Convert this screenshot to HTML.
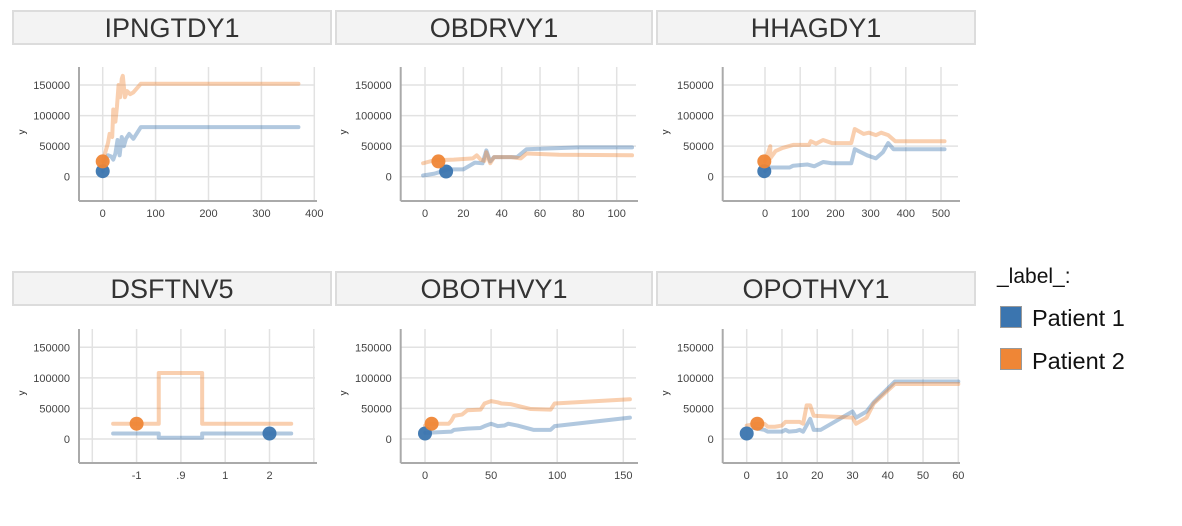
<!DOCTYPE html>
<html><head><meta charset="utf-8"><style>
body{margin:0;width:1182px;height:526px;background:#fff;overflow:hidden;font-family:"Liberation Sans",sans-serif}
svg{position:absolute;left:0;top:0}
</style></head><body>
<svg id="chart" width="1182" height="526"></svg>
<script>
const titles = ["IPNGTDY1","OBDRVY1","HHAGDY1","DSFTNV5","OBOTHVY1","OPOTHVY1"];
const yTicks = [0,50000,100000,150000];
const yTickLabels = ["0","50000","100000","150000"];
const xTicks1 = [0,100,200,300,400];
const xTicks2 = [0,20,40,60,80,100];
const xTicks3 = [0,100,200,300,400,500];
const xTicks4 = [1,2,3,4];
const xTickLabels4 = ["-1",".9","1","2"];
const xTicks5 = [0,50,100,150];
const xTicks6 = [0,10,20,30,40,50,60];
const p1Orange = [[0,25000],[5,40000],[10,55000],[13,70000],[18,65000],[20,110000],[24,90000],[27,115000],[30,150000],[33,130000],[36,160000],[38,165000],[42,130000],[46,140000],[52,135000],[58,138000],[72,152000],[370,152000]];
const p1Blue = [[0,9000],[5,28000],[10,35000],[16,33000],[20,28000],[24,38000],[28,60000],[32,35000],[36,65000],[40,50000],[44,62000],[50,70000],[58,62000],[72,81000],[370,81000]];
const p2Orange = [[-1,22000],[5,27000],[15,28000],[25,30000],[27,35000],[29,28000],[31,26000],[32,40000],[34,22000],[36,32000],[45,32000],[50,30000],[53,38000],[70,36000],[108,35000]];
const p2Blue = [[-1,2000],[5,5000],[8,8000],[12,12000],[20,12000],[26,23000],[30,22000],[32,43000],[34,25000],[36,32000],[48,32000],[53,45000],[80,48000],[108,48000]];
const p3Orange = [[0,25000],[15,50000],[15,30000],[30,42000],[50,47000],[80,52000],[125,52000],[130,58000],[145,54000],[165,60000],[190,55000],[245,55000],[255,78000],[280,70000],[295,72000],[315,68000],[330,72000],[350,68000],[370,58000],[510,58000]];
const p3Blue = [[0,9000],[10,15000],[70,15000],[80,18000],[120,20000],[140,17000],[165,24000],[190,22000],[245,22000],[255,45000],[290,35000],[315,30000],[335,40000],[350,55000],[365,45000],[510,45000]];
const p4Orange = [[0.47,25000],[1.5,25000],[1.5,108000],[2.48,108000],[2.48,25000],[4.49,25000]];
const p4Blue = [[0.47,9000],[1.5,9000],[1.5,2000],[2.48,2000],[2.48,9000],[4.49,9000]];
const p5Orange = [[0,22000],[3,25000],[18,25000],[20,30000],[22,38000],[28,40000],[32,47000],[42,48000],[45,58000],[50,62000],[55,60000],[58,58000],[65,57000],[80,49000],[95,48000],[98,58000],[155,65000]];
const p5Blue = [[0,10000],[20,12000],[22,15000],[32,17000],[42,18000],[45,21000],[50,25000],[55,21000],[60,22000],[63,25000],[70,22000],[82,15000],[95,15000],[98,21000],[155,35000]];
const p6Orange = [[0,22000],[3,25000],[5,25000],[6,20000],[8,20000],[10,22000],[11,28000],[15,28000],[16,25000],[17,55000],[18,55000],[19,38000],[30,35000],[31,25000],[34,35000],[36,58000],[42,90000],[60,90000]];
const p6Blue = [[2,18000],[5,15000],[6,12000],[10,12000],[11,15000],[12,12000],[14,13000],[15,15000],[16,12000],[18,33000],[19,15000],[21,15000],[30,45000],[31,35000],[34,45000],[36,60000],[42,94000],[60,94000]];
const markersOrange = [[0,25000],[7,25000],[-2,25000],[1,25000],[5,25000],[3,25000]];
const markersBlue = [[0,9000],[11,8500],[-2,9000],[4,9000],[0,9000],[0,9000]];

const NS="http://www.w3.org/2000/svg";
const svg=document.getElementById('chart');
function mk(tag,attrs,parent){const e=document.createElementNS(NS,tag);for(const k in attrs)e.setAttribute(k,attrs[k]);(parent||svg).appendChild(e);return e;}

const panels=[
 {hx:12,hw:320,row:0,ax:79,right:315,x0:102.7,k:0.529,ticks:xTicks1,o:p1Orange,b:p1Blue},
 {hx:335,hw:318,row:0,ax:400.7,right:636,x0:425,k:1.917,ticks:xTicks2,o:p2Orange,b:p2Blue},
 {hx:656,hw:320,row:0,ax:722.7,right:958,x0:765,k:0.352,ticks:xTicks3,o:p3Orange,b:p3Blue},
 {hx:12,hw:320,row:1,ax:79,right:315,x0:92.3,k:44.3,ticks:xTicks4,labels:xTickLabels4,o:p4Orange,b:p4Blue,extra:[0,5]},
 {hx:335,hw:318,row:1,ax:400.7,right:636,x0:425,k:1.322,ticks:xTicks5,o:p5Orange,b:p5Blue},
 {hx:656,hw:320,row:1,ax:722.7,right:958,x0:746.7,k:3.527,ticks:xTicks6,o:p6Orange,b:p6Blue}
];
const rows=[{hy:10,y0:176.7,top:67,bot:201,ly:132},{hy:271,y0:439,top:329,bot:463,ly:393}];
const ky=(176.7-85)/150000;

panels.forEach((p,i)=>{
 const r=rows[p.row];
 const g=mk('g',{});
 
 
 const xs=v=>p.x0+v*p.k, ys=v=>r.y0-v*ky;
 const h=mk('rect',{x:p.hx+1,y:r.hy+1,width:p.hw-2,height:33,fill:'#f3f3f3',stroke:'#dcdcdc','stroke-width':2},g);
 
 
 const t=mk('text',{x:p.hx+p.hw/2,y:r.hy+27,'text-anchor':'middle','font-size':27,fill:'#333'},g);
 t.textContent=titles[i];
 
 
 yTicks.forEach((v,j)=>{
  mk('line',{x1:p.ax,x2:p.right,y1:ys(v),y2:ys(v),stroke:'#e2e2e2','stroke-width':1.5},g);
  const tl=mk('text',{x:p.ax-9,y:ys(v)+4,'text-anchor':'end','font-size':11,fill:'#444'},g);
  tl.textContent=yTickLabels[j];
  
  
 });
 const vt=p.extra?p.ticks.concat(p.extra):p.ticks;
 vt.forEach(v=>mk('line',{x1:xs(v),x2:xs(v),y1:r.top,y2:r.bot,stroke:'#e2e2e2','stroke-width':1.5},g));
 p.ticks.forEach((v,j)=>{
  const tl=mk('text',{x:xs(v),y:r.bot+16,'text-anchor':'middle','font-size':11,fill:'#444'},g);
  tl.textContent=p.labels?p.labels[j]:String(v);
  
  
 });
 mk('line',{x1:p.ax,x2:p.ax,y1:r.top,y2:r.bot,stroke:'#aaa','stroke-width':2},g);
 mk('line',{x1:p.ax,x2:p.right+2,y1:r.bot,y2:r.bot,stroke:'#aaa','stroke-width':2},g);
 const yl=mk('text',{x:0,y:0,'font-size':10,fill:'#333','text-anchor':'middle',transform:`translate(${p.ax-54},${r.ly}) rotate(-90)`},g);
 yl.textContent='y';
 
 
 const line=(d,c,name)=>{const pl=mk('polyline',{points:d.map(q=>xs(q[0])+','+ys(q[1])).join(' '),fill:'none',stroke:c,'stroke-width':4,'stroke-opacity':0.4,'stroke-linejoin':'round','stroke-linecap':'round'},g);
  
  };
 line(p.b,'#3b75af','patient-1-line');
 line(p.o,'#ef8636','patient-2-line');
 const mb=mk('circle',{cx:xs(markersBlue[i][0]),cy:ys(markersBlue[i][1]),r:7,fill:'#3b75af','fill-opacity':0.95},g);
 
 
 const mo=mk('circle',{cx:xs(markersOrange[i][0]),cy:ys(markersOrange[i][1]),r:7,fill:'#ef8636','fill-opacity':0.95},g);
 
 
});
</script>
<svg width="1182" height="526" style="pointer-events:none">
 <text x="997" y="283" font-size="21" fill="#111">_label_:</text>
 <g>
  <rect x="1000.5" y="306.5" width="21" height="21" fill="#3b75af" stroke="#999"/>
  <text x="1032" y="326" font-size="23.5" fill="#111">Patient 1</text>
 </g>
 <g>
  <rect x="1000.5" y="348.5" width="21" height="21" fill="#ef8636" stroke="#999"/>
  <text x="1032" y="369" font-size="23.5" fill="#111">Patient 2</text>
 </g>
</svg>
</body></html>
